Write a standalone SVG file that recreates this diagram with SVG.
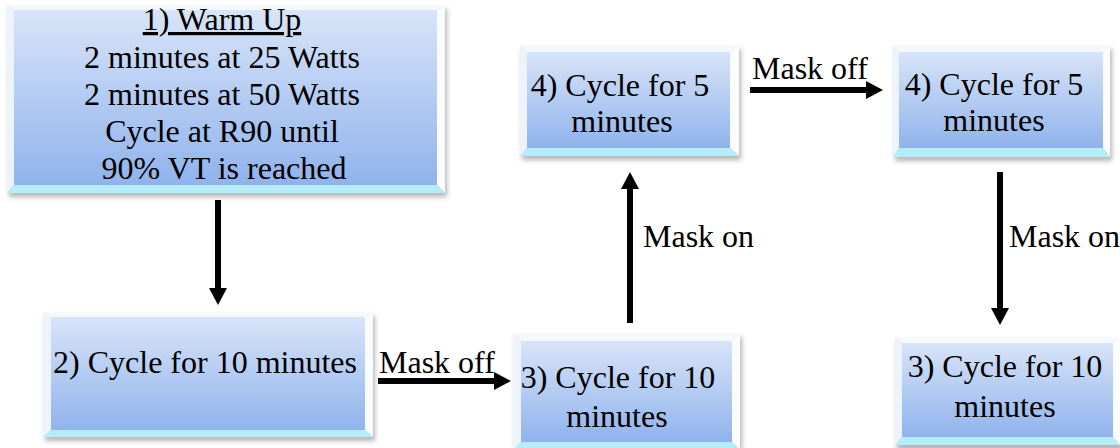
<svg xmlns="http://www.w3.org/2000/svg" width="1120" height="448" viewBox="0 0 1120 448">
<style>
.t{font-family:"Liberation Serif","Times New Roman",serif;font-size:32px;fill:#000;text-anchor:middle}
.l{font-family:"Liberation Serif","Times New Roman",serif;font-size:32px;fill:#000}
.face{fill:url(#g)}
.bt{fill:#f5f8fd}
.bl{fill:#edf3fb}
.br{fill:#fbfcfe}
.bb{fill:#b6ecf8}
.sh{fill:#7a7a7a;opacity:.55;filter:url(#blur)}
.c{stroke:#000;stroke-width:6;fill:none;marker-end:url(#ah)}
</style>
<defs>
<linearGradient id="g" x1="0" y1="0" x2="0" y2="1">
<stop offset="0" stop-color="#d8e4f8"/>
<stop offset="1" stop-color="#90b3ec"/>
</linearGradient>
<filter id="blur" x="-10%" y="-10%" width="120%" height="130%"><feGaussianBlur stdDeviation="2.5"/></filter>
<marker id="ah" markerUnits="userSpaceOnUse" markerWidth="17" markerHeight="18" viewBox="0 0 17 18" refX="0" refY="9" orient="auto">
<path d="M0,0 L17,9 L0,18 z" fill="#000"/>
</marker>
</defs>

<g id="n1">
<rect class="sh" x="9" y="9" width="438" height="188"/>
<polygon class="bt" points="7,5 445,5 437,10 14,10"/>
<polygon class="bl" points="7,5 14,10 14,185 7,193"/>
<polygon class="br" points="445,5 445,193 437,185 437,10"/>
<polygon class="bb" points="14,185 437,185 445,193 7,193"/>
<rect class="face" x="14" y="10" width="423" height="175"/>
<text class="t" x="222" y="30" text-decoration="underline">1) Warm Up</text>
<text class="t" x="222" y="68">2 minutes at 25 Watts</text>
<text class="t" x="222" y="105">2 minutes at 50 Watts</text>
<text class="t" x="222" y="142">Cycle at R90 until</text>
<text class="t" x="224" y="179">90% VT is reached</text>
</g>

<g id="n2">
<rect class="sh" x="45" y="316" width="330" height="125"/>
<polygon class="bt" points="43,312 373,312 365,317 51,317"/>
<polygon class="bl" points="43,312 51,317 51,430 43,437"/>
<polygon class="br" points="373,312 373,437 365,430 365,317"/>
<polygon class="bb" points="51,430 365,430 373,437 43,437"/>
<rect class="face" x="51" y="317" width="314" height="113"/>
<text class="t" x="205" y="373">2) Cycle for 10 minutes</text>
</g>

<g id="n3">
<rect class="sh" x="515" y="337" width="227" height="120"/>
<polygon class="bt" points="513,333 740,333 732,341 521,341"/>
<polygon class="bl" points="513,333 521,341 521,442 513,450"/>
<polygon class="br" points="740,333 740,450 732,442 732,341"/>
<polygon class="bb" points="521,442 732,442 740,450 513,450"/>
<rect class="face" x="521" y="341" width="211" height="101"/>
<text class="t" x="618" y="388">3) Cycle for 10</text>
<text class="t" x="617" y="427">minutes</text>
</g>

<g id="n4">
<rect class="sh" x="522" y="49" width="219" height="111"/>
<polygon class="bt" points="520,45 739,45 730,52 527,52"/>
<polygon class="bl" points="520,45 527,52 527,148 520,156"/>
<polygon class="br" points="739,45 739,156 730,148 730,52"/>
<polygon class="bb" points="527,148 730,148 739,156 520,156"/>
<rect class="face" x="527" y="52" width="203" height="96"/>
<text class="t" x="620" y="96">4) Cycle for 5</text>
<text class="t" x="622" y="132">minutes</text>
</g>

<g id="n5">
<rect class="sh" x="895" y="49" width="217" height="112"/>
<polygon class="bt" points="893,45 1110,45 1103,52 899,52"/>
<polygon class="bl" points="893,45 899,52 899,148 893,157"/>
<polygon class="br" points="1110,45 1110,157 1103,148 1103,52"/>
<polygon class="bb" points="899,148 1103,148 1110,157 893,157"/>
<rect class="face" x="899" y="52" width="204" height="96"/>
<text class="t" x="994" y="95">4) Cycle for 5</text>
<text class="t" x="994" y="131">minutes</text>
</g>

<g id="n6">
<rect class="sh" x="897" y="341" width="226" height="110"/>
<polygon class="bt" points="895,337 1120,337 1113,343 902,343"/>
<polygon class="bl" points="895,337 902,343 902,437 895,445"/>
<polygon class="br" points="1120,337 1120,445 1113,437 1113,343"/>
<polygon class="bb" points="902,437 1113,437 1120,445 895,445"/>
<rect class="face" x="902" y="343" width="211" height="94"/>
<text class="t" x="1005" y="377">3) Cycle for 10</text>
<text class="t" x="1005" y="417">minutes</text>
</g>

<g id="connectors">
<line class="c" x1="218" y1="200" x2="218" y2="288"/>
<line class="c" x1="378" y1="381" x2="494" y2="381"/>
<line class="c" x1="630" y1="323" x2="630" y2="189"/>
<line class="c" x1="750" y1="90" x2="866" y2="90"/>
<line class="c" x1="1000" y1="172" x2="1000" y2="308"/>
<text class="l" x="379" y="373">Mask off</text>
<text class="l" x="752" y="79">Mask off</text>
<text class="l" x="643" y="247">Mask on</text>
<text class="l" x="1009" y="247">Mask on</text>
</g>
</svg>
